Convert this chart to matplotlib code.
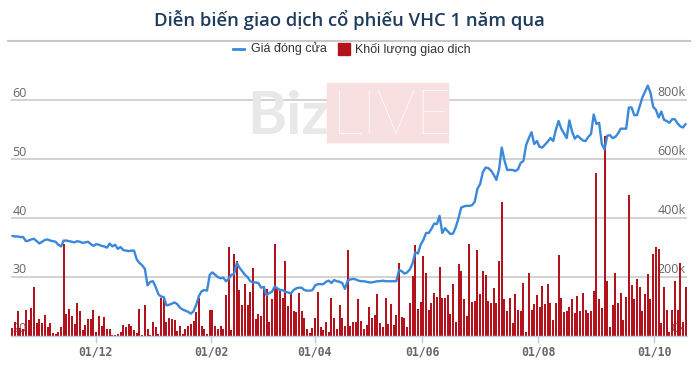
import matplotlib
matplotlib.use("Agg")
import matplotlib.pyplot as plt
import matplotlib.transforms as mtrans
from matplotlib.lines import Line2D
from matplotlib.patches import Rectangle

title = "Diễn biến giao dịch cổ phiếu VHC 1 năm qua"
series_names = ["Giá đóng cửa", "Khối lượng giao dịch"]

# closing price (thousand VND), one value per trading session
price = [
    37.0, 36.9, 36.9, 36.8, 36.8, 36.1, 36.2, 36.4, 36.5, 36.1,
    35.7, 36.0, 36.3, 36.4, 36.2, 36.1, 36.0, 35.5, 35.2, 36.2,
    36.2, 36.1, 36.0, 35.9, 36.1, 36.0, 35.8, 35.9, 36.0, 35.6,
    35.3, 35.6, 35.5, 35.3, 35.2, 35.0, 35.7, 35.2, 35.5, 34.8,
    35.1, 34.6, 34.5, 34.4, 34.5, 34.5, 33.0, 32.4, 32.0, 31.4,
    28.6, 29.2, 29.3, 28.3, 27.1, 26.7, 26.6, 25.2, 25.3, 25.5,
    25.7, 25.4, 24.8, 24.5, 24.3, 24.1, 23.8, 24.2, 25.3, 26.8,
    27.6, 27.8, 27.7, 30.4, 30.8, 30.4, 30.0, 29.8, 29.9, 29.3,
    29.7, 30.4, 30.5, 32.4, 31.6, 31.0, 30.4, 30.0, 29.3, 29.1,
    29.1, 29.0, 28.2, 28.3, 26.9, 27.3, 27.5, 28.4, 28.1, 27.8,
    27.8, 27.5, 27.4, 27.2, 27.8, 28.1, 28.2, 28.2, 27.8, 27.7,
    27.7, 27.8, 28.6, 28.8, 28.8, 28.8, 29.2, 29.4, 29.0, 29.5,
    29.3, 29.2, 29.0, 28.0, 29.4, 29.6, 29.7, 29.6, 29.4, 29.3,
    29.3, 29.2, 29.1, 29.1, 29.2, 29.3, 29.3, 29.4, 29.3, 29.3,
    29.3, 29.3, 29.3, 31.2, 31.0, 30.6, 30.8, 31.3, 32.3, 34.2,
    34.0, 35.5, 36.3, 37.5, 37.5, 38.2, 39.1, 39.0, 40.4, 37.5,
    38.3, 37.8, 37.3, 37.4, 38.5, 40.0, 41.8, 42.0, 42.1, 42.1,
    42.2, 42.8, 45.0, 45.8, 47.8, 48.6, 48.5, 48.1, 47.4, 46.5,
    48.3, 52.0, 49.8, 48.2, 48.2, 48.2, 48.0, 48.3, 49.4, 49.7,
    52.4, 53.6, 54.6, 52.6, 53.1, 52.1, 52.0, 52.5, 53.0, 53.6,
    53.1, 55.0, 56.5, 55.2, 54.4, 53.6, 56.6, 54.7, 53.5, 54.0,
    53.6, 53.2, 53.1, 53.8, 54.3, 57.6, 56.0, 56.2, 52.6, 51.7,
    54.0, 54.1, 53.6, 53.8, 54.4, 55.2, 55.2, 55.2, 58.8, 58.8,
    57.5, 57.5, 59.0, 60.5, 61.5, 62.5, 61.3, 58.9, 58.4, 57.1,
    58.1, 56.7, 56.5, 56.2, 56.8, 56.8, 56.1, 55.6, 55.4, 56.0,
]

# traded volume (thousand shares), one value per trading session
volume_k = [
    26, 47, 84, 26, 23, 87, 55, 95, 167, 44, 59, 44, 72, 31, 45, 10, 6, 15, 32, 312,
    76, 90, 68, 40, 113, 84, 20, 37, 59, 57, 87, 14, 68, 34, 63, 23, 23, 5, 3, 8,
    14, 37,
    32, 40, 35, 20, 10, 90, 5, 106, 23, 5, 49, 30, 6, 130, 128, 46, 60, 59, 55, 17,
    35, 6, 25, 35, 42, 50, 80, 128, 35, 25, 6, 87, 87, 35, 25, 35, 23, 138, 302, 20,
    280,
    255, 156, 105, 176, 104, 150, 231, 59, 76, 68, 170, 160, 46, 124, 311, 160, 161, 130, 253, 101,
    141, 84, 80, 145, 84, 62, 23, 10, 28, 60, 149, 30, 20, 46, 12, 130, 60, 25, 104, 60,
    35, 293,
    34, 49, 49, 124, 52, 25, 38, 99, 61, 72, 141, 45, 30, 130, 40, 107, 38, 72, 248, 64,
    60, 30, 113, 203, 310, 92, 114, 271, 213, 87, 113, 147, 133, 233, 130, 130, 138, 76, 176, 49,
    245, 222,
    124, 69, 314, 116, 118, 293, 141, 220, 207, 118, 112, 162, 112, 256, 454, 127, 84, 130, 44, 141,
    89, 84, 179, 15, 213, 89, 109, 140, 99, 170, 109, 175, 112, 55, 112, 274, 130, 80, 84,
    99, 124, 79, 136, 85, 147, 88, 79, 86, 153, 555, 127, 96, 680, 187, 29, 104, 215, 113, 145,
    56, 134, 480, 173, 127, 192, 167, 86, 143, 210, 124, 278, 303, 297, 43, 167, 88, 14, 88, 188,
    88, 248, 49, 165,
]

x_tick_labels = ["01/12", "01/02", "01/04", "01/06", "01/08", "01/10"]
x_tick_index = [30.8, 73.5, 111.9, 151.6, 194.5, 237.4]
price_ticks = [20, 30, 40, 50, 60]
volume_ticks_k = [0, 200, 400, 600, 800]

W, H = 698, 365
fig = plt.figure(figsize=(W / 100, H / 100), dpi=100)
fig.patch.set_facecolor("white")


def fx(px):
    return px / W


def fy(py):
    return 1 - py / H


L, R, T, B = 11, 687, 78, 336
ax_v = fig.add_axes([fx(L), fy(B), (R - L) / W, (B - T) / H])
ax_p = ax_v.twinx()

n = len(volume_k)
xs = list(range(n))
ax_v.bar(xs, volume_k, width=0.74, color="#b3131c", linewidth=0, zorder=2)
ax_p.plot(xs, price, color="#3a88dc", lw=1.7, solid_joinstyle="round",
          solid_capstyle="round", zorder=3)

px_per_unit = 58.9 / 10
p_top = 20 + (B - T) / px_per_unit
ax_p.set_ylim(20, p_top)
ax_v.set_ylim(0, (p_top - 20) * 20)
ax_v.set_xlim(-0.5, n - 0.5)

for a in (ax_v, ax_p):
    for s in ("top", "left", "right"):
        a.spines[s].set_visible(False)
    a.set_yticks([])
    a.patch.set_visible(False)
ax_p.spines["bottom"].set_visible(False)
ax_v.spines["bottom"].set_color("#c0d0e0")
ax_v.spines["bottom"].set_linewidth(1.0)
ax_v.spines["bottom"].set_zorder(2.5)

# grid lines
for v in volume_ticks_k[1:]:
    ax_v.axhline(v, color="#c6c6c6", lw=1.1, zorder=0.5)

lab_kw = dict(fontsize=9, color="#666666", family=["Open Sans", "DejaVu Sans"], zorder=0.6)
tr_right = mtrans.blended_transform_factory(ax_v.transAxes, ax_v.transData)
for v in volume_ticks_k:
    ax_v.annotate(f"{v}k", xy=(1, v), xycoords=tr_right, xytext=(-1, 1),
                  textcoords="offset points", ha="right", va="bottom", **lab_kw)
tr_left = mtrans.blended_transform_factory(ax_v.transAxes, ax_p.transData)
for p in price_ticks:
    ax_v.annotate(f"{p}", xy=(0, p), xycoords=tr_left, xytext=(1, 0.5),
                  textcoords="offset points", ha="left", va="bottom", **lab_kw)

ax_v.set_xticks(x_tick_index)
ax_v.set_xticklabels(x_tick_labels, family="DejaVu Sans Mono", fontweight="bold",
                     fontsize=8.3, color="#666666")
ax_v.tick_params(axis="x", length=5, width=1, color="#c0d0e0", pad=1.5)

# title and rule
fig.text(0.5, fy(20), title, ha="center", va="center", fontsize=13.3,
         fontweight="semibold", color="#1f3b5c", family=["Open Sans", "DejaVu Sans"])
fig.add_artist(Line2D([fx(8), fx(690)], [fy(41), fy(41)], color="#c8c8c8", lw=1.5))

# legend
leg_kw = dict(fontsize=9, color="#333333", va="center", ha="left",
              family=["Liberation Sans Narrow", "Liberation Sans", "DejaVu Sans"])
fig.add_artist(Line2D([fx(233), fx(244)], [fy(49), fy(49)], color="#3a88dc", lw=2))
fig.text(fx(251), fy(49), series_names[0], **leg_kw)
fig.add_artist(Rectangle((fx(338), fy(55)), fx(12), 12 / H, color="#b3131c",
                         transform=fig.transFigure))
fig.text(fx(355), fy(49), series_names[1], **leg_kw)

# watermark
fig.text(fx(247), fy(134), "Biz", fontsize=43, fontweight="bold", color="#e8e8e8",
         ha="left", va="baseline", family=["Lato", "DejaVu Sans"])
fig.add_artist(Rectangle((fx(327), fy(142)), fx(121), 59 / H, color="#f8e0e0",
                         transform=fig.transFigure, zorder=3))
fig.text(fx(332), fy(134), "LIVE", fontsize=44, fontweight="light", color="white",
         ha="left", va="baseline", family=["Lato", "DejaVu Sans"], zorder=4)

fig.savefig("out.png", dpi=100, facecolor="white")
